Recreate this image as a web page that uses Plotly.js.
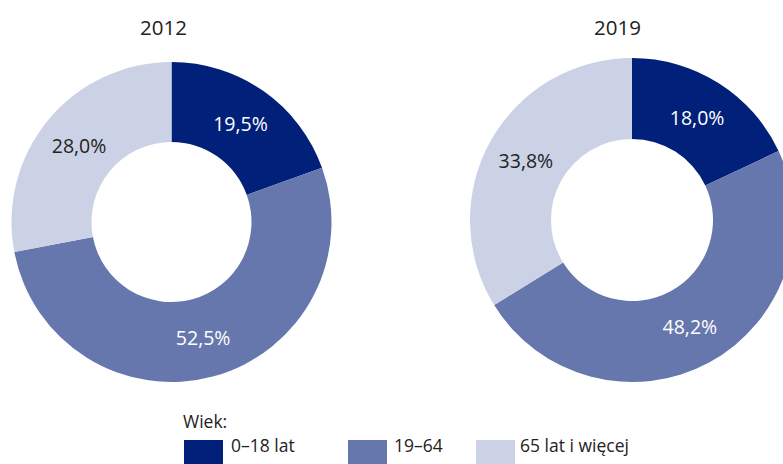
<!DOCTYPE html>
<html>
<head>
<meta charset="utf-8">
<script src="https://cdn.plot.ly/plotly-3.0.1.min.js"></script>
<style>
html, body { margin: 0; padding: 0; overflow: hidden; background: #fff; }
#chart { width: 800px; height: 464px; }
</style>
</head>
<body>
<div id="chart"></div>
<script>
// ---- data ----
var categories = ['0–18 lat', '19–64', '65 lat i więcej'];
var years = ['2012', '2019'];
var values2012 = [19.5, 52.5, 28.0];
var values2019 = [18.0, 48.2, 33.8];
var colors = ['#00207a', '#6677ad', '#ccd2e5'];
var textColors = ['#ffffff', '#ffffff', '#222222'];
var legendTitle = 'Wiek:';

// ---- layout constants (pixels) ----
var W = 800, H = 464;
function px(x) { return x / W; }
function py(y) { return 1 - y / H; }

var fontFam = '"Open Sans", "Noto Sans", sans-serif';

function donut(values, name, dom) {
  return {
    type: 'pie',
    name: name,
    labels: categories,
    values: values,
    hole: 0.5,
    sort: false,
    direction: 'clockwise',
    rotation: 0,
    marker: { colors: colors, line: { width: 0 } },
    textinfo: 'value',
    texttemplate: '%{value:.1f}%',
    textposition: 'inside',
    insidetextorientation: 'horizontal',
    insidetextfont: { color: textColors, size: 19.5, family: fontFam },
    showlegend: false,
    hoverinfo: 'label+value',
    domain: dom
  };
}

var data = [
  donut(values2012, years[0], { x: [px(11), px(332)], y: [py(382), py(62)] }),
  donut(values2019, years[1], { x: [px(470), px(794)], y: [py(382), py(58)] })
];

var annotations = [
  { text: years[0], x: px(163), y: py(27) },
  { text: years[1], x: px(617), y: py(27) }
].map(function (a) {
  return { text: a.text, x: a.x, y: a.y, xref: 'paper', yref: 'paper',
    xanchor: 'center', yanchor: 'middle', showarrow: false,
    font: { size: 20.5, color: '#222', family: fontFam } };
});

annotations.push({ text: legendTitle, x: px(181), y: py(421), xref: 'paper', yref: 'paper',
  xanchor: 'left', yanchor: 'middle', showarrow: false,
  font: { size: 17.5, color: '#222', family: fontFam } });

var swatchX = [184, 348, 476];
var labelX = [229, 392, 518];
var shapes = [];
categories.forEach(function (c, i) {
  shapes.push({ type: 'rect', xref: 'paper', yref: 'paper',
    x0: px(swatchX[i]), x1: px(swatchX[i] + 39), y0: py(470), y1: py(440),
    fillcolor: colors[i], line: { width: 0 } });
  annotations.push({ text: c, x: px(labelX[i]), y: py(445), xref: 'paper', yref: 'paper',
    xanchor: 'left', yanchor: 'middle', showarrow: false,
    font: { size: 17.5, color: '#222', family: fontFam } });
});

var layout = {
  width: W, height: H,
  margin: { l: 0, r: 0, t: 0, b: 0 },
  paper_bgcolor: '#ffffff',
  separators: ', ',
  font: { family: fontFam, color: '#222' },
  showlegend: false,
  annotations: annotations,
  shapes: shapes
};

Plotly.newPlot('chart', data, layout, { displayModeBar: false, staticPlot: true });
</script>
</body>
</html>
